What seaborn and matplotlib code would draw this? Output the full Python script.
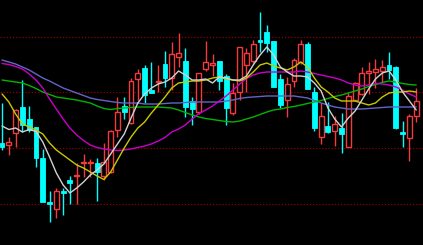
import numpy as np
import pandas as pd
import matplotlib
matplotlib.use("Agg")
import matplotlib.pyplot as plt
from matplotlib.patches import Rectangle
import seaborn as sns

# ---- data (price units) ----
opens = [102, 100, 112, 138, 126, 118, 87, 43, 36, 54, 65, 69, 82, 82, 82, 69, 73, 115, 139, 122,
         166, 177, 155, 163, 181, 167, 188, 184, 144, 133, 176, 180, 184, 169, 132, 153, 180, 184, 205, 213,
         204, 166, 145, 164, 183, 201, 153, 108, 119, 114, 117, 98, 145, 151, 172, 173, 174, 180, 178, 113,
         107, 129]
highs = [142, 108, 136, 165, 139, 118, 96, 54, 57, 57, 69, 82, 91, 86, 87, 102, 115, 148, 148, 167,
         176, 180, 183, 180, 194, 203, 212, 197, 148, 172, 204, 191, 184, 171, 162, 198, 197, 205, 233, 220,
         204, 171, 168, 187, 205, 203, 158, 142, 143, 129, 132, 152, 163, 178, 183, 186, 185, 193, 179, 124,
         131, 157]
lows = [95, 90, 98, 113, 113, 78, 43, 23, 27, 30, 41, 41, 68, 68, 44, 65, 72, 108, 126, 121,
        145, 142, 152, 153, 158, 155, 178, 128, 120, 131, 174, 169, 155, 120, 130, 145, 153, 182, 193, 193,
        158, 137, 128, 158, 181, 156, 114, 101, 112, 99, 92, 98, 144, 150, 151, 157, 163, 166, 116, 98,
        84, 123]
closes = [98, 103, 135, 120, 115, 87, 43, 41, 54, 52, 62, 70, 83, 83, 73, 83, 114, 133, 133, 164,
          172, 150, 152, 164, 167, 191, 192, 138, 136, 172, 183, 182, 164, 137, 152, 198, 192, 201, 203, 202,
          158, 140, 161, 185, 201, 156, 117, 129, 113, 121, 111, 149, 162, 172, 174, 176, 178, 175, 117, 111,
          129, 144]

ma_white = [119, 115.5, 117, 113, 115.5, 113.5, 103, 88, 72, 60, 52, 57, 63, 70, 75, 81, 91, 101, 111, 127,
            142, 151, 157, 161, 163, 167, 174, 170, 165, 165, 166, 162, 168, 167, 165, 165, 169, 180, 190, 198,
            190, 178, 173, 169, 169, 168, 162, 154, 137, 126, 118, 127, 134, 145, 156, 166, 172, 174, 165, 153,
            144, 135]
ma_yellow = [151, 143, 131, 121, 118, 115, 111, 102, 95, 90, 85, 80, 77, 73, 69, 65.5, 73, 85, 97, 108,
             117, 123, 132, 140, 148, 157, 162, 163, 164, 164, 165, 167, 168, 166, 165, 164, 167, 173, 180, 182,
             179, 177, 175, 178, 183, 178, 167, 158, 153, 147, 144, 144, 144, 142, 140, 142, 148, 152, 153, 153,
             154, 153]
ma_magenta = [181.5, 180.5, 178.5, 176, 171, 165, 157, 146, 136, 126, 117, 110, 104.5, 100, 97.5, 96, 95, 94.5, 95, 96,
              97.5, 99, 101, 104, 107.5, 113, 116, 120, 126, 131.5, 135, 139, 144, 149, 155, 161, 166.5, 170, 172, 173,
              173, 173, 173, 173, 174, 173, 171.5, 170, 168.5, 167, 165, 162, 160, 159, 160, 161.5, 161, 160, 158, 155,
              151, 148]
ma_blue = [185, 183, 181, 178, 175, 171, 167, 164, 160.5, 157, 154.5, 152, 149.5, 147, 145.5, 144.5, 143.5, 142.5, 142, 142,
           142, 141, 141, 141, 141.5, 142, 142, 142.5, 143, 143, 143, 143, 143, 144, 145, 146.5, 147.5, 148, 148.5, 149,
           149, 149, 149, 149, 148, 147, 144.5, 142, 140, 138, 137, 136, 136, 136, 136.5, 137, 137.5, 138, 138, 138,
           138, 138]
ma_green = [165, 164, 163, 162, 159.5, 156.5, 153, 150.5, 148, 147, 146, 145, 143.5, 142, 139, 136.5, 135.5, 136.5, 137, 137.5,
            138, 138, 138, 138, 137.5, 137, 135, 132.5, 130, 128, 126.5, 125.5, 124.5, 123.5, 123, 124, 126, 128, 130.5, 133,
            135, 136, 137.5, 138.5, 140, 141.5, 143, 144.5, 146.5, 148.5, 150, 152, 154, 156, 158.5, 160.5, 162.5, 164, 163, 161.5,
            160.5, 160]

grid_levels = [208.3, 152.7, 97, 41.3]

# ---- style ----
sns.set_theme(style="dark", rc={"axes.facecolor": "black", "figure.facecolor": "black"})

UP = "#f03c3c"
DOWN = "#00ffff"

fig = plt.figure(figsize=(4.23, 2.45), dpi=100)
ax = fig.add_axes([0, 0, 1, 1])
ax.set_facecolor("black")

for g in grid_levels:
    ax.axhline(g, color="#8c0000", lw=0.9, ls=(0, (1, 1.5)), zorder=1)

n = len(opens)
idx = np.arange(n)
w = 0.72
for i in range(n):
    o, h, l, c = opens[i], highs[i], lows[i], closes[i]
    if c >= o:
        top, bot = c, o
        ax.vlines(i, top, h, color=UP, lw=1.0, zorder=2)
        ax.vlines(i, l, bot, color=UP, lw=1.0, zorder=2)
        hh = max(top - bot, 0.8)
        ax.add_patch(Rectangle((i - w / 2, bot), w, hh, facecolor="black",
                               edgecolor=UP, lw=1.0, zorder=3))
    else:
        top, bot = o, c
        ax.vlines(i, l, h, color=DOWN, lw=1.0, zorder=2)
        hh = max(top - bot, 1.5)
        ax.add_patch(Rectangle((i - w / 2, bot), w, hh, facecolor=DOWN,
                               edgecolor=DOWN, lw=0.6, zorder=3))

df = pd.DataFrame({"i": idx, "blue": ma_blue, "green": ma_green, "magenta": ma_magenta,
                   "yellow": ma_yellow, "white": ma_white})
line_colors = {"blue": "#6464c8", "green": "#00b400", "magenta": "#c800c8",
               "yellow": "#c8c800", "white": "#d2d2d2"}
for name, col in line_colors.items():
    sns.lineplot(data=df, x="i", y=name, ax=ax, color=col, lw=1.0, zorder=4)

ax.set_xlim(-0.3, 62.0)
ax.set_ylim(0, 245)
ax.set_xticks([])
ax.set_yticks([])
ax.set_xlabel("")
ax.set_ylabel("")
for s in ax.spines.values():
    s.set_visible(False)

fig.savefig("out.png", dpi=100, facecolor="black")
